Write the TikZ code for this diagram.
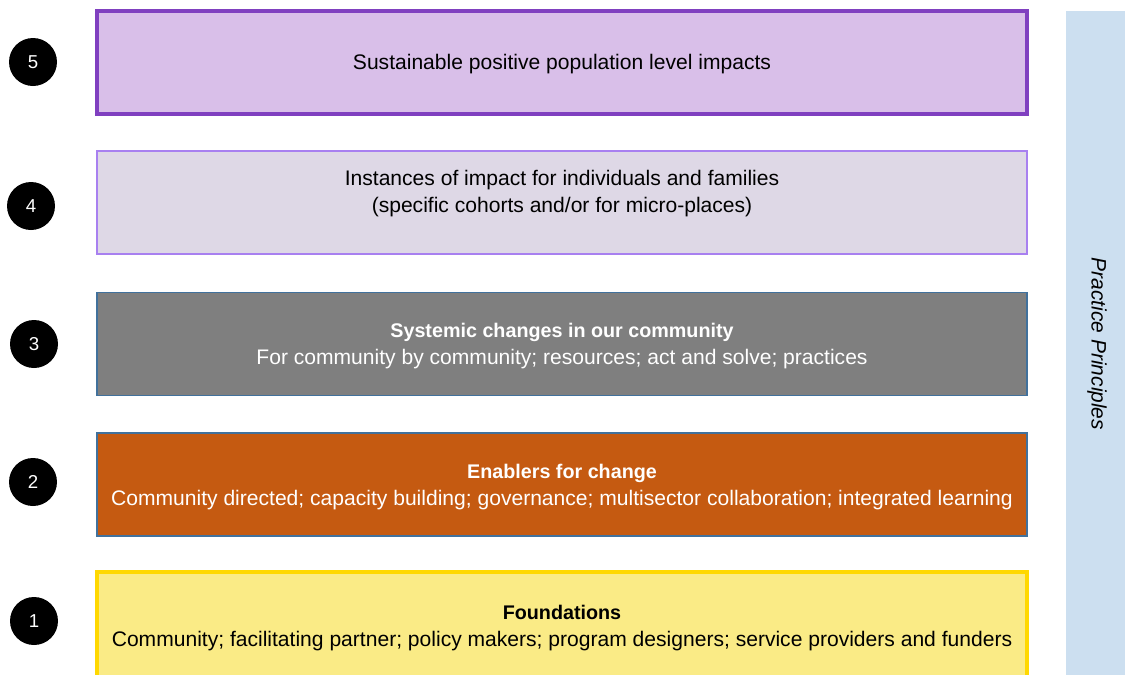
\documentclass[tikz,border=0pt]{standalone}
\usepackage{fontspec}
\setmainfont{Liberation Sans}
\usetikzlibrary{positioning}
\definecolor{impactfill}{HTML}{D9BFE9}
\definecolor{impactline}{HTML}{8040C0}
\definecolor{instfill}{HTML}{DED8E6}
\definecolor{instline}{HTML}{A880F0}
\definecolor{sysfill}{HTML}{7F7F7F}
\definecolor{boxline}{HTML}{41719C}
\definecolor{enabfill}{HTML}{C55A11}
\definecolor{foundfill}{HTML}{FAEB86}
\definecolor{foundline}{HTML}{FFD800}
\definecolor{barfill}{HTML}{CCDFF0}
\newcommand{\headline}[1]{{\fontsize{14.8}{20.25}\selectfont\bfseries #1}}

\begin{document}
\begin{tikzpicture}[x=0.75pt,y=-0.75pt,
	level/.style={draw,minimum width=697.5pt,minimum height=77.25pt,inner sep=0pt},
	leveltext/.style={align=center,inner sep=0pt,font=\fontsize{15.8}{20.25}\selectfont},
	num/.style={circle,fill=black,minimum size=36pt,inner sep=0pt,
		text=white,font=\fontsize{14}{16}\selectfont}]
	\useasboundingbox (0,0) rectangle (1125,675);
	\clip (0,0) rectangle (1125,675);
	%
	\node[level,fill=impactfill,draw=impactline,line width=2.3pt] (L5) at (562,62.5) {};
	\node[leveltext] (T5) at (562,64.5) {Sustainable positive population level impacts};
	%
	\node[level,fill=instfill,draw=instline,line width=1.1pt] (L4) at (562,202.5) {};
	\node[leveltext] (T4) at (562,193.5)
		{Instances of impact for individuals and families\\ (specific cohorts and/or for micro-places)};
	%
	\node[level,fill=sysfill,draw=boxline,line width=1.1pt] (L3) at (562,344) {};
	\node[leveltext,text=white] (T3) at (562,346.5)
		{\headline{Systemic changes in our community}\\For community by community; resources; act and solve; practices};
	%
	\node[level,fill=enabfill,draw=boxline,line width=1.1pt] (L2) at (562,484.5) {};
	\node[leveltext,text=white] (T2) at (562,487)
		{\headline{Enablers for change}\\Community directed; capacity building; governance; multisector collaboration; integrated learning};
	%
	\node[level,fill=foundfill,draw=foundline,line width=2.3pt,minimum height=84pt] (L1) at (562,628) {};
	\node[leveltext] (T1) at (562,628)
		{\headline{Foundations}\\Community; facilitating partner; policy makers; program designers; service providers and funders};
	%
	\node[num] (N5) at (33,62) {5};
	\node[num] (N4) at (31,206) {4};
	\node[num] (N3) at (34,344) {3};
	\node[num] (N2) at (33,482) {2};
	\node[num] (N1) at (34,621) {1};
	%
	\node[fill=barfill,minimum width=44.25pt,minimum height=498pt,inner sep=0pt] (PP) at (1095.5,343) {};
	\node[rotate=-90,font=\fontsize{15.7}{18}\selectfont\itshape] (PPtext) at (1097,344) {Practice Principles};
\end{tikzpicture}
\end{document}
